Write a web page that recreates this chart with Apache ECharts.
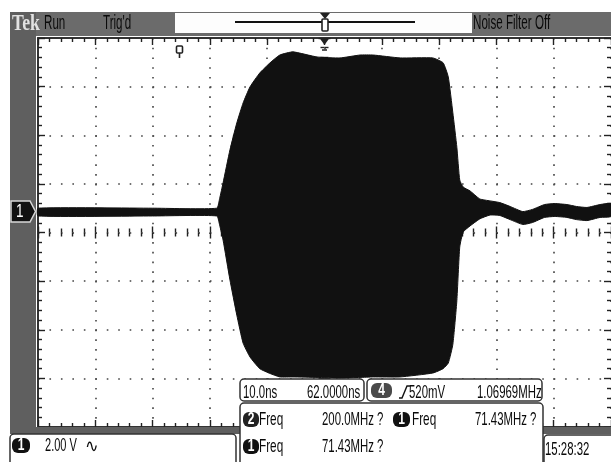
<!DOCTYPE html>
<html><head><meta charset="utf-8">
<script src="https://cdn.jsdelivr.net/npm/echarts@6/dist/echarts.min.js"></script>
<style>html,body{margin:0;padding:0;background:#fff}#c{width:611px;height:462px}</style>
</head><body><div id="c"></div>
<script>
// Time (ns, relative to trigger) and the envelope of channel 1 (V)
const timeNs = [-50, -30, -18.8, -18.3, -17.7, -16.5, -15.3, -14.2, -13.0, -11.3, -9.5, -7.8, -5.5, -1.3, 2.7, 6.2, 8.5, 13.2, 18.9, 20.7, 21.6, 22.4, 23.1, 23.6, 24.2, 25.4, 27.1, 28.9, 30.6, 32.4, 34.6, 36.3, 38.4, 40.2, 42.3, 44.0, 45.8, 48.1, 50];
const upperV = [1.00, 1.00, 1.00, 1.40, 2.04, 3.40, 4.51, 5.33, 5.99, 6.56, 6.98, 7.30, 7.43, 7.22, 7.18, 7.30, 7.30, 7.18, 7.18, 6.98, 6.40, 4.92, 3.50, 2.16, 1.87, 1.71, 1.38, 1.30, 1.23, 1.07, 0.86, 0.95, 1.15, 1.19, 1.15, 1.07, 1.03, 1.15, 1.19];
const lowerV = [0.68, 0.68, 0.68, 0.30, -0.31, -1.95, -3.40, -4.55, -5.12, -5.60, -5.80, -5.94, -5.94, -5.96, -5.99, -5.96, -5.94, -5.94, -5.78, -5.60, -5.37, -4.60, -2.80, -0.60, 0.02, 0.27, 0.56, 0.72, 0.70, 0.53, 0.33, 0.41, 0.62, 0.66, 0.62, 0.53, 0.49, 0.62, 0.66];

// Axis scales: 10 ns/div, 2.00 V/div
const xMin = -50, xMax = 50, xStep = 10;
const yMin = -8, yMax = 8, yStep = 2;

// Readout texts
const topTexts = ['Run', "Trig'd", 'Noise Filter Off'];
const boxA = ['10.0ns', '62.0000ns'];
const boxB = ['4', '520mV', '1.06969MHz'];
const row1 = ['2', 'Freq', '200.0MHz ?', '1', 'Freq', '71.43MHz ?'];
const row2 = ['1', 'Freq', '71.43MHz ?'];
const chText = ['1', '2.00 V', '\u223F'];
const clock = '15:28:32';

const FONT = '"Liberation Sans", Arial, sans-serif';
const ink = '#0a0a0a';

function T(x, y, text, size, opt) {
  opt = opt || {};
  return {
    type: 'text', x: x, y: y, z: 110, scaleX: opt.sx || 0.62,
    style: { text: text, x: 0, y: 0, font: (opt.w || 'normal') + ' ' + size + 'px ' + (opt.f || FONT),
      fill: opt.c || ink, align: opt.a || 'left', verticalAlign: 'middle' }
  };
}
function R(x, y, w, h, fill, stroke, r, lw) {
  return { type: 'rect', z: 105, shape: { x: x, y: y, width: w, height: h, r: r || 0 },
    style: { fill: fill, stroke: stroke || null, lineWidth: lw || 1.5 } };
}
function badge(x, y, w, h, label, fill) {
  return [R(x, y, w, h, fill || '#111', null, 6), T(x + w / 2, y + h / 2 + 0.5, label, 16, { a: 'center', c: '#fff', sx: 0.75, w: 'bold' })];
}

const tickStyle = { color: '#222', width: 1.4 };
function xa(extra) {
  return Object.assign({ type: 'value', min: xMin, max: xMax, interval: xStep, axisLabel: { show: false },
    splitLine: { show: false }, axisPointer: { show: false } }, extra);
}
function ya(extra) {
  return Object.assign({ type: 'value', min: yMin, max: yMax, interval: yStep, axisLabel: { show: false },
    splitLine: { show: false }, axisPointer: { show: false } }, extra);
}

const graphics = [
  // frame
  R(10, 12, 601, 24, '#6b6b6b'),
  R(10, 12, 26, 421, '#5f5f5f'),
  R(10, 427, 601, 7, '#5f5f5f'),
  R(175, 13, 297, 20, '#fdfdfd'),
  { type: 'line', z: 106, shape: { x1: 235, y1: 22, x2: 415, y2: 22 }, style: { stroke: '#111', lineWidth: 2 } },
  { type: 'polygon', z: 107, shape: { points: [[320, 13], [330, 13], [325, 19]] }, style: { fill: '#222' } },
  { type: 'rect', z: 107, shape: { x: 322, y: 19, width: 6, height: 12, r: 1 }, style: { fill: '#fff', stroke: '#222', lineWidth: 1.6 } },
  { type: 'polygon', z: 107, shape: { points: [[319.5, 38], [329.5, 38], [324.5, 45]] }, style: { fill: '#222' } },
  { type: 'line', z: 107, shape: { x1: 322, y1: 50, x2: 327, y2: 50 }, style: { stroke: '#222', lineWidth: 1.5 } },
  // expansion point marker
  { type: 'rect', z: 107, shape: { x: 176.5, y: 46, width: 6, height: 7, r: 1 }, style: { fill: '#fff', stroke: '#222', lineWidth: 1.6 } },
  { type: 'line', z: 107, shape: { x1: 179.5, y1: 53, x2: 179.5, y2: 58 }, style: { stroke: '#222', lineWidth: 1.6 } },
  // channel marker
  { type: 'polygon', z: 107, shape: { points: [[11, 201], [30, 201], [35.5, 211.5], [30, 222], [11, 222]] },
    style: { fill: '#111', stroke: '#d8d8d8', lineWidth: 1.5 } },
  T(16, 212, '1', 18, { c: '#fff', sx: 0.75 }),
  // top bar texts
  T(12, 24, 'Tek', 24, { c: '#e2e2e2', w: 'bold', f: '"Liberation Serif", serif', sx: 0.74 }),
  T(44, 23.5, topTexts[0], 20, { sx: 0.58 }),
  T(103, 23.5, topTexts[1], 20, { sx: 0.58 }),
  T(473, 23.5, topTexts[2], 20, { sx: 0.58 }),
  // readout boxes
  R(240, 379, 124, 22, '#fff', '#333', 4),
  R(367, 379, 175, 22, '#fff', '#333', 4),
  R(240, 403, 303, 64, '#fff', '#333', 4),
  R(544, 435, 72, 32, '#fff', '#333', 4),
  R(10, 434, 226, 32, '#fff', '#333', 4),
  T(243, 392.5, boxA[0], 19, { sx: 0.6 }),
  T(307, 392.5, boxA[1], 19, { sx: 0.6 }),
  ...badge(371, 383, 21, 15, boxB[0], '#4a4a4a'),
  { type: 'polyline', z: 108, shape: { points: [[399, 398], [402, 398], [407, 386], [410, 386]] }, style: { stroke: '#111', lineWidth: 1.4, fill: null } },
  T(409, 392.5, boxB[1], 19, { sx: 0.6 }),
  T(477, 392.5, boxB[2], 19, { sx: 0.6 }),
  ...badge(243, 412, 16, 15, row1[0], '#222'),
  T(259, 420, row1[1], 19, { sx: 0.62 }),
  T(322, 420, row1[2], 19, { sx: 0.6 }),
  ...badge(393, 412, 17, 15, row1[3], '#111'),
  T(412, 420, row1[4], 19, { sx: 0.62 }),
  T(475, 420, row1[5], 19, { sx: 0.6 }),
  ...badge(243, 439, 16, 15, row2[0], '#111'),
  T(259, 447, row2[1], 19, { sx: 0.62 }),
  T(322, 447, row2[2], 19, { sx: 0.6 }),
  T(545, 450, clock, 19, { sx: 0.6 }),
  ...badge(12, 438, 18, 15, chText[0], '#111'),
  T(45, 446, chText[1], 19, { sx: 0.58 }),
  T(85, 447, chText[2], 18, { sx: 0.9, f: '"DejaVu Sans", sans-serif' })
];

const chart = echarts.init(document.getElementById('c'), null, { renderer: 'canvas' });
chart.setOption({
  animation: false,
  backgroundColor: '#fff',
  grid: { left: 38, right: 0, top: 38, bottom: 35, outerBoundsMode: 'none' },
  xAxis: [
    xa({ position: 'bottom', axisLine: { show: true, onZero: false, lineStyle: { color: '#333', width: 2 } },
      axisTick: { inside: true, length: 7, lineStyle: tickStyle },
      minorTick: { show: true, splitNumber: 5, length: 4, lineStyle: tickStyle },
      splitLine: { show: true, lineStyle: { color: '#444', width: 1.6, type: [1.6, 8.12] } } }),
    xa({ position: 'top', axisLine: { show: true, onZero: false, lineStyle: { color: '#333', width: 2 } },
      axisTick: { inside: true, length: 7, lineStyle: tickStyle },
      minorTick: { show: true, splitNumber: 5, length: 4, lineStyle: tickStyle } }),
    xa({ position: 'bottom', axisLine: { show: false, onZero: true, onZeroAxisIndex: 0 },
      axisTick: { inside: true, length: 6, lineStyle: tickStyle },
      minorTick: { show: true, splitNumber: 5, length: 4, lineStyle: tickStyle } }),
    xa({ position: 'bottom', axisLine: { show: false, onZero: true, onZeroAxisIndex: 0 },
      axisTick: { inside: false, length: 6, lineStyle: tickStyle },
      minorTick: { show: true, splitNumber: 5, length: 4, lineStyle: tickStyle } })
  ],
  yAxis: [
    ya({ position: 'left', axisLine: { show: true, onZero: false, lineStyle: { color: '#333', width: 2 } },
      axisTick: { inside: true, length: 7, lineStyle: tickStyle },
      minorTick: { show: true, splitNumber: 5, length: 4, lineStyle: tickStyle },
      splitLine: { show: true, lineStyle: { color: '#444', width: 1.6, type: [1.6, 9.86] } } }),
    ya({ position: 'right', axisLine: { show: false, onZero: false },
      axisTick: { inside: true, length: 7, lineStyle: tickStyle },
      minorTick: { show: true, splitNumber: 5, length: 4, lineStyle: tickStyle } }),
    ya({ position: 'left', axisLine: { show: false, onZero: true, onZeroAxisIndex: 0 },
      axisTick: { inside: true, length: 6, lineStyle: tickStyle },
      minorTick: { show: true, splitNumber: 5, length: 4, lineStyle: tickStyle } }),
    ya({ position: 'left', axisLine: { show: false, onZero: true, onZeroAxisIndex: 0 },
      axisTick: { inside: false, length: 6, lineStyle: tickStyle },
      minorTick: { show: true, splitNumber: 5, length: 4, lineStyle: tickStyle } })
  ],
  series: [{
    type: 'custom', xAxisIndex: 0, yAxisIndex: 0, z: 10, silent: true,
    data: [[0, 0]],
    renderItem: function (params, api) {
      const pts = [];
      for (let i = 0; i < timeNs.length; i++) pts.push(api.coord([timeNs[i], upperV[i]]));
      for (let i = timeNs.length - 1; i >= 0; i--) pts.push(api.coord([timeNs[i], lowerV[i]]));
      return { type: 'polygon', shape: { points: pts, smooth: 0.15 }, style: { fill: '#111', stroke: '#111', lineWidth: 1 } };
    }
  }],
  graphic: graphics
});
</script></body></html>
